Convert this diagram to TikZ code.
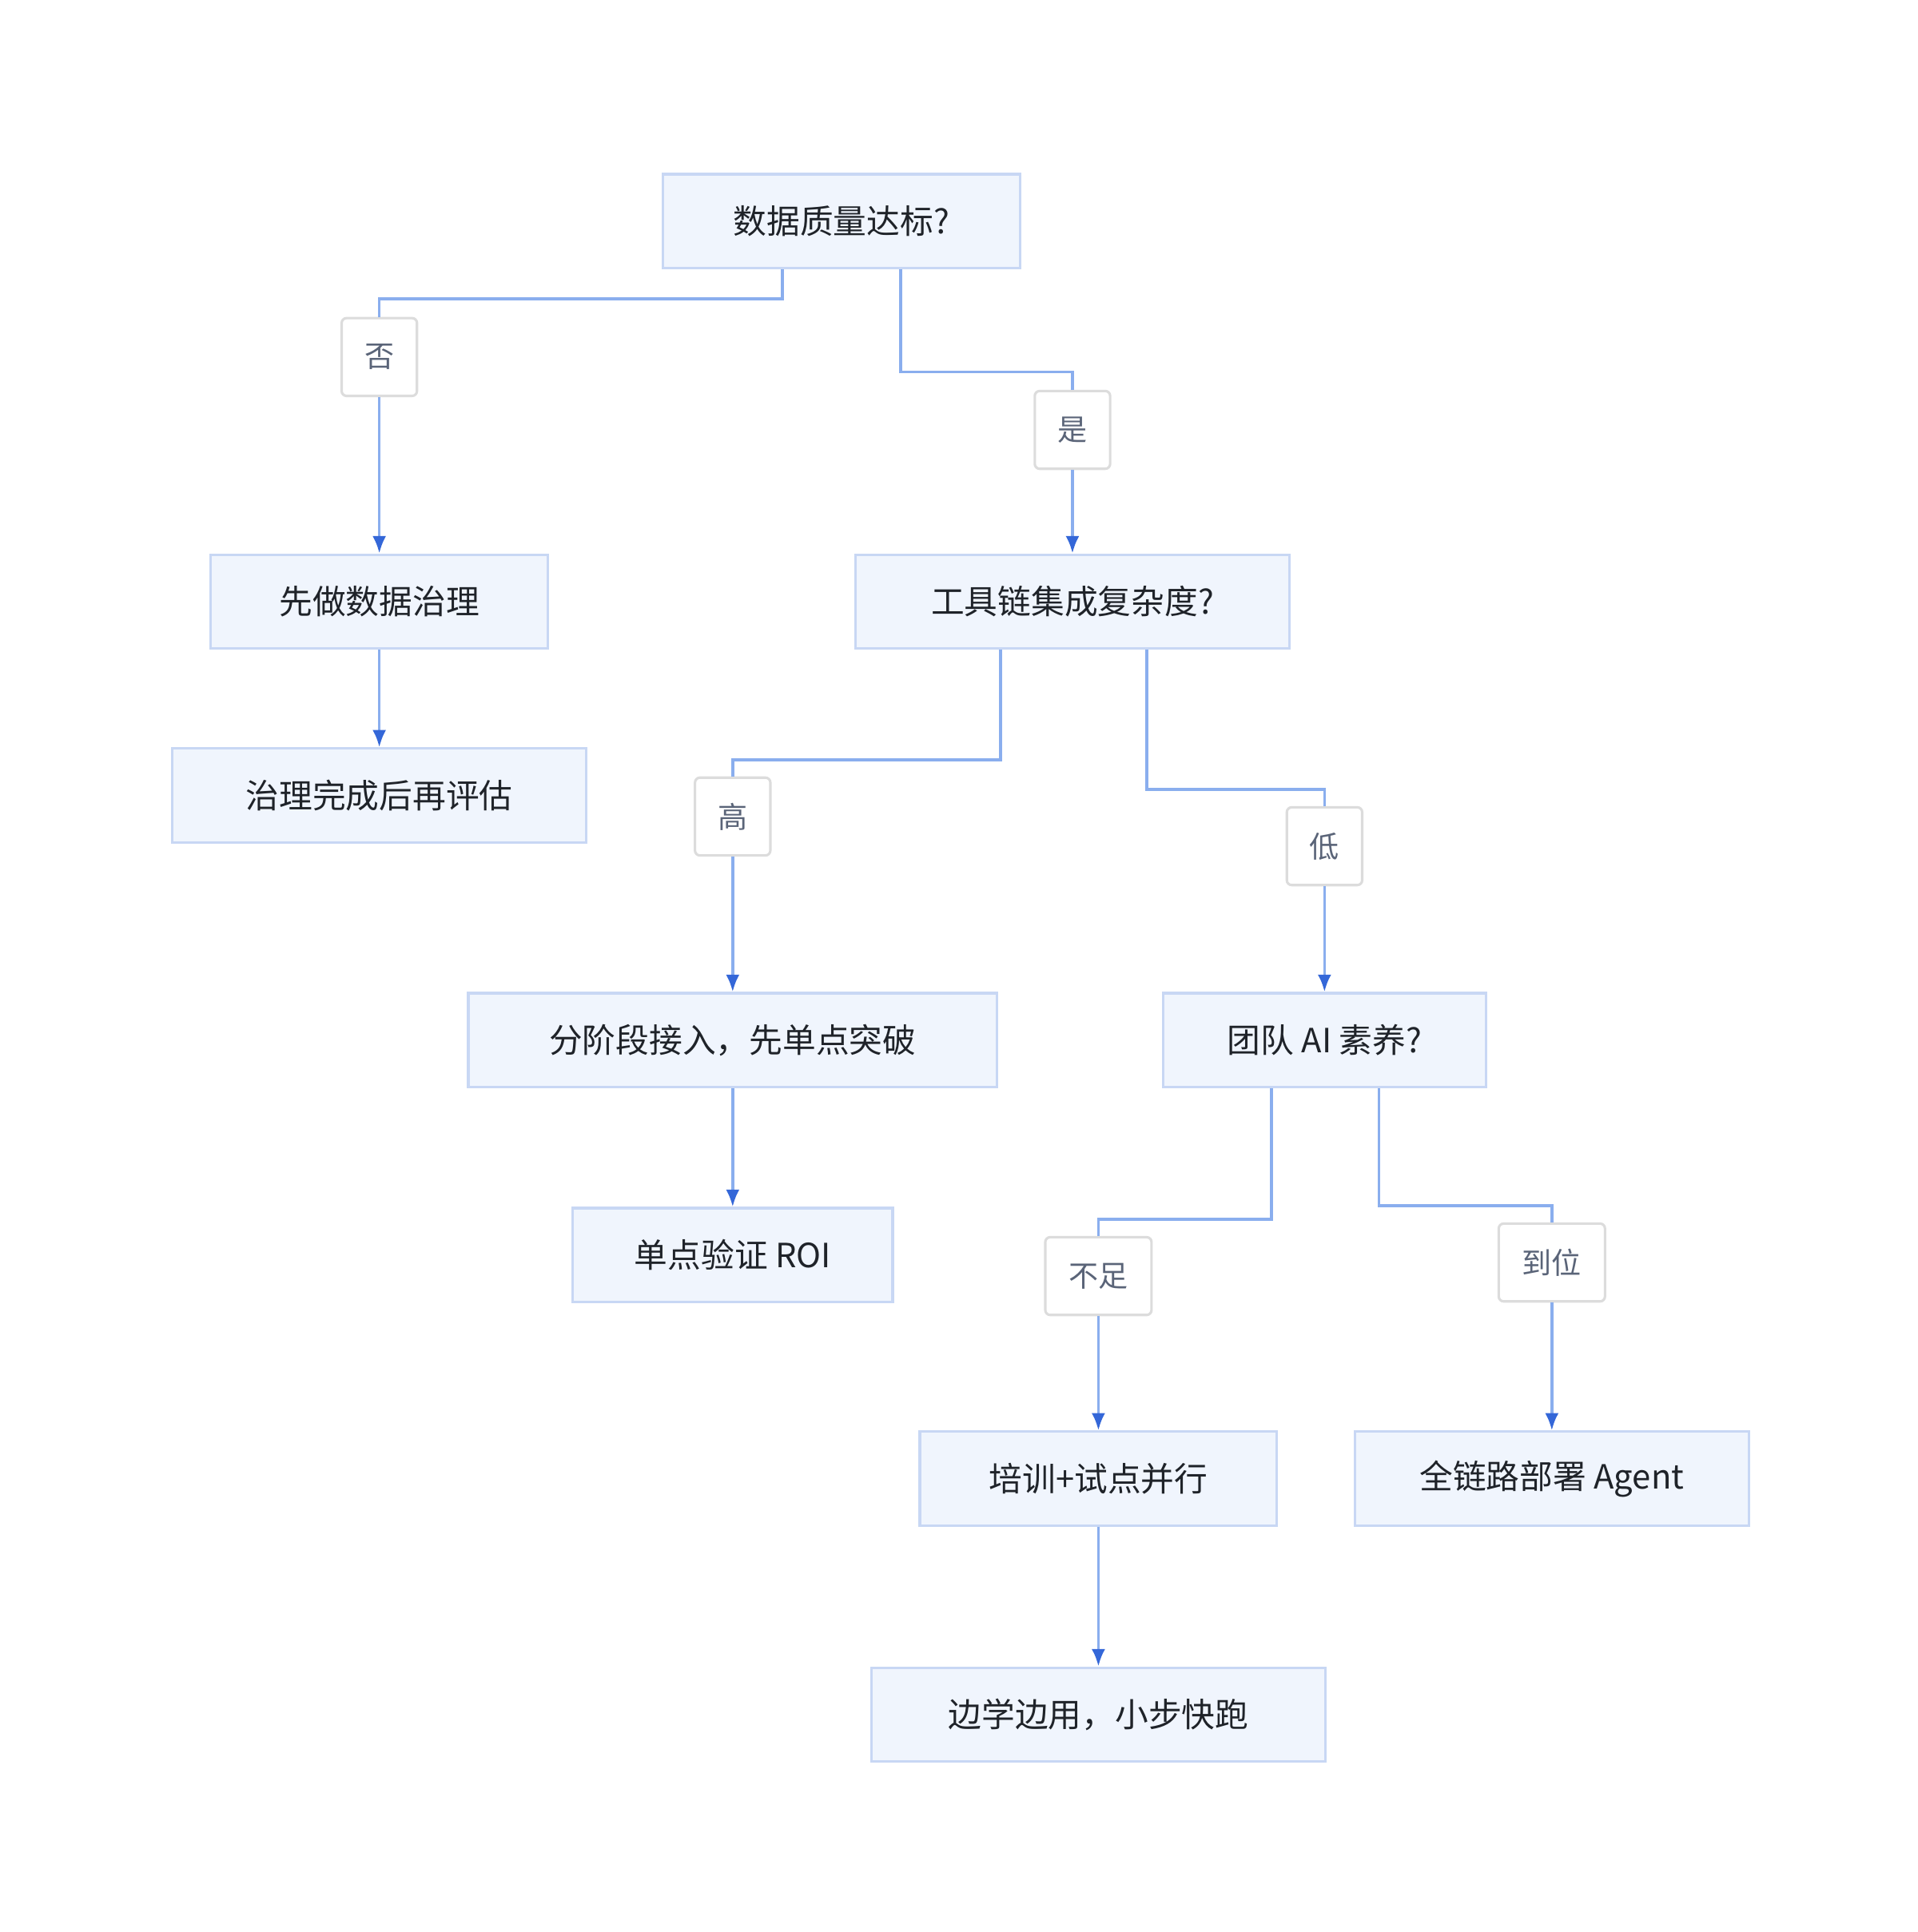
\documentclass[tikz,border=0pt]{standalone}
\usepackage{fontspec}
\setmainfont{Noto Sans CJK SC}
\usetikzlibrary{arrows.meta}
\definecolor{boxfill}{HTML}{F0F5FD}
\definecolor{boxline}{HTML}{C8D7F4}
\definecolor{edge}{HTML}{8AAEEE}
\definecolor{tip}{HTML}{3467D8}
\definecolor{lblline}{HTML}{DCDCDC}
\definecolor{lbltext}{HTML}{5A6478}
\definecolor{txt}{HTML}{1F2329}
\begin{document}
\begin{tikzpicture}[x=0.5pt,y=-0.5pt,
  box/.style={draw=boxline,fill=boxfill,line width=1pt,minimum height=38pt,inner sep=0pt,text=txt,font=\fontsize{13.5}{16}\selectfont},
  lbl/.style={draw=lblline,fill=white,line width=1pt,rounded corners=2pt,minimum height=31.5pt,minimum width=30.5pt,inner sep=0pt,text=lbltext,font=\fontsize{12}{14}\selectfont},
  ln/.style={draw=edge,line width=1.2pt},
  ar/.style={ln,-{Latex[length=7pt,width=5.5pt,color=tip]}}]
\useasboundingbox[fill=white] (0,0) rectangle (1552,1564);
\node[box,minimum width=144.5pt] (q1) at (681,179) {数据质量达标?};
\node[lbl] (no) at (307,289) {否};
\node[lbl] (yes) at (868,348) {是};
\node[box,minimum width=136.5pt] (gov) at (307,487) {先做数据治理};
\node[box,minimum width=167.5pt] (re) at (307,644) {治理完成后再评估};
\node[box,minimum width=175.5pt] (tool) at (868,487) {工具链集成复杂度?};
\node[lbl] (hi) at (593,661) {高};
\node[lbl] (lo) at (1072,685) {低};
\node[box,minimum width=214pt] (phase) at (593,842) {分阶段接入，先单点突破};
\node[box,minimum width=130.5pt] (team) at (1072,842) {团队 AI 素养?};
\node[box,minimum width=129.5pt] (roi) at (593,1016) {单点验证 ROI};
\node[lbl,minimum width=43pt] (lack) at (889,1033) {不足};
\node[lbl,minimum width=43pt] (ok) at (1256,1022) {到位};
\node[box,minimum width=144.5pt] (train) at (889,1197) {培训+试点并行};
\node[box,minimum width=159.5pt] (full) at (1256,1197) {全链路部署 Agent};
\node[box,minimum width=183.5pt] (learn) at (889,1388) {边学边用，小步快跑};

\draw[ln] (q1.south -| 633,0) |- (307,242) -- (no.north);
\draw[ar] (no) -- (gov);
\draw[ar] (gov) -- (re);
\draw[ln] (q1.south -| 729,0) |- (868,301) -- (yes.north);
\draw[ar] (yes) -- (tool);
\draw[ln] (tool.south -| 810,0) |- (593,615) -- (hi.north);
\draw[ar] (hi) -- (phase);
\draw[ar] (phase) -- (roi);
\draw[ln] (tool.south -| 928,0) |- (1072,639) -- (lo.north);
\draw[ar] (lo) -- (team);
\draw[ln] (team.south -| 1029,0) |- (889,987) -- (lack.north);
\draw[ar] (lack) -- (train);
\draw[ar] (train) -- (learn);
\draw[ln] (team.south -| 1116,0) |- (1256,976) -- (ok.north);
\draw[ar] (ok) -- (full);
\end{tikzpicture}
\end{document}
